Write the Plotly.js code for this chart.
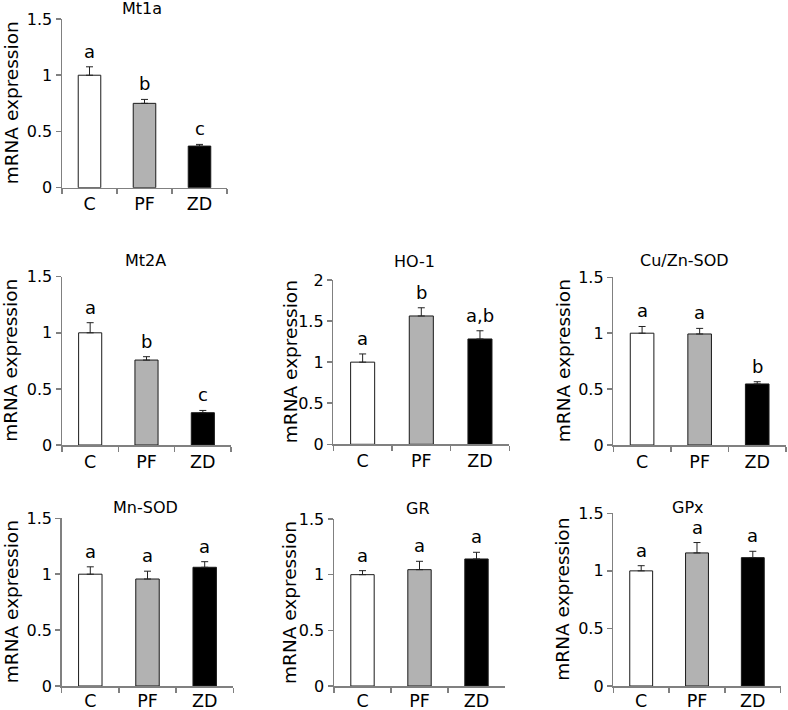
<!DOCTYPE html>
<html>
<head>
<meta charset="utf-8">
<script src="https://cdn.plot.ly/plotly-3.0.1.min.js"></script>
<style>
  html, body { margin: 0; padding: 0; background: #fff; }
  #chart { width: 788px; height: 710px; }
</style>
</head>
<body>
<div id="chart"></div>
<script>
// ---------- data ----------
const categories = ['C', 'PF', 'ZD'];
const genes = ['Mt1a', 'Mt2A', 'HO-1', 'Cu/Zn-SOD', 'Mn-SOD', 'GR', 'GPx'];

const mt1aMean = [1.00, 0.75, 0.37];
const mt1aErr  = [0.075, 0.035, 0.015];
const mt1aSig  = ['a', 'b', 'c'];

const mt2aMean = [1.00, 0.757, 0.288];
const mt2aErr  = [0.09, 0.03, 0.02];
const mt2aSig  = ['a', 'b', 'c'];

const ho1Mean = [1.00, 1.562, 1.282];
const ho1Err  = [0.10, 0.10, 0.10];
const ho1Sig  = ['a', 'b', 'a,b'];

const cuznMean = [1.00, 0.993, 0.546];
const cuznErr  = [0.06, 0.05, 0.02];
const cuznSig  = ['a', 'a', 'b'];

const mnMean = [1.00, 0.957, 1.062];
const mnErr  = [0.066, 0.07, 0.05];
const mnSig  = ['a', 'a', 'a'];

const grMean = [1.00, 1.045, 1.141];
const grErr  = [0.036, 0.075, 0.06];
const grSig  = ['a', 'a', 'a'];

const gpxMean = [1.00, 1.156, 1.115];
const gpxErr  = [0.045, 0.09, 0.055];
const gpxSig  = ['a', 'a', 'a'];

const yMax = [1.5, 1.5, 2, 1.5, 1.5, 1.5, 1.5];
const yTitle = 'mRNA expression';

const means = [mt1aMean, mt2aMean, ho1Mean, cuznMean, mnMean, grMean, gpxMean];
const errs  = [mt1aErr, mt2aErr, ho1Err, cuznErr, mnErr, grErr, gpxErr];
const sigs  = [mt1aSig, mt2aSig, ho1Sig, cuznSig, mnSig, grSig, gpxSig];

// ---------- layout geometry (pixels) ----------
const W = 788, H = 710;
const px = x => x / W;
const py = y => 1 - y / H;
// [left, right, top, bottom]
const boxes = [
  [62, 227, 19, 187.7],
  [62, 231, 276.7, 445],
  [333.3, 509.3, 280, 444.3],
  [613.3, 786, 277.3, 445],
  [61.7, 233.3, 518.3, 686],
  [334, 505, 519, 686],
  [613.3, 780.7, 513.3, 686]
];
const titlePos = [[142, 8.7], [145.7, 260.5], [414, 261.7], [684, 260.8], [145, 507.5], [418.3, 508.3], [687.5, 507.5]];
const yTitleX = [11, 11, 290, 563, 11, 289.5, 563];

const FONT = 'DejaVu Sans, Verdana, sans-serif';
const barColors = ['#ffffff', '#b2b2b2', '#000000'];
const axisGray = '#808080';

const traces = [];
const layout = {
  width: W, height: H,
  margin: {l: 0, r: 0, t: 0, b: 0},
  paper_bgcolor: '#fff',
  plot_bgcolor: 'rgba(0,0,0,0)',
  showlegend: false,
  font: {family: FONT, color: '#000', size: 15},
  annotations: []
};

genes.forEach((g, i) => {
  const n = i + 1;
  const xa = 'x' + (n === 1 ? '' : n);
  const ya = 'y' + (n === 1 ? '' : n);
  const xKey = 'xaxis' + (n === 1 ? '' : n);
  const yKey = 'yaxis' + (n === 1 ? '' : n);
  const b = boxes[i];

  traces.push({
    type: 'bar',
    x: categories,
    y: means[i],
    xaxis: xa, yaxis: ya,
    width: 0.41,
    marker: {color: barColors, line: {color: '#1a1a1a', width: 1}},
    error_y: {
      type: 'data', symmetric: false,
      array: errs[i], arrayminus: errs[i].map(() => 0),
      color: '#222', thickness: 1, width: 3.5
    },
    hoverinfo: 'skip'
  });

  layout[xKey] = {
    domain: [px(b[0]), px(b[1])],
    anchor: ya,
    type: 'category',
    range: [-0.5, 2.5],
    showline: true, linecolor: axisGray, linewidth: 1.5,
    ticks: 'outside', tickson: 'boundaries', ticklen: 5, tickcolor: axisGray, tickwidth: 1.5,
    ticklabelstandoff: i >= 4 ? -2 : 0,
    showgrid: false, zeroline: false,
    tickfont: {size: 17.5, family: FONT, color: '#000'},
    fixedrange: true
  };
  layout[yKey] = {
    domain: [py(b[3]), py(b[2])],
    anchor: xa,
    range: [0, yMax[i]],
    dtick: 0.5, tick0: 0,
    showline: true, linecolor: axisGray, linewidth: 1.5,
    ticks: 'outside', ticklen: 5, tickcolor: axisGray, tickwidth: 1.5,
    showgrid: false, zeroline: false,
    tickfont: {size: 16, family: FONT, color: '#000'},
    fixedrange: true
  };

  // panel title
  layout.annotations.push({
    text: g, xref: 'paper', yref: 'paper',
    x: px(titlePos[i][0]), y: py(titlePos[i][1]),
    xanchor: 'center', yanchor: 'middle', showarrow: false,
    font: {size: 16, family: FONT, color: '#000'}
  });
  // y-axis title
  layout.annotations.push({
    text: yTitle, xref: 'paper', yref: 'paper', textangle: -90,
    x: px(yTitleX[i]), y: py((b[2] + b[3]) / 2),
    xanchor: 'center', yanchor: 'middle', showarrow: false,
    font: {size: 18.5, family: FONT, color: '#000'}
  });
  // significance letters
  categories.forEach((c, k) => {
    layout.annotations.push({
      text: sigs[i][k], xref: xa, yref: ya,
      x: c, y: means[i][k] + errs[i][k],
      xanchor: 'center', yanchor: 'bottom', yshift: 3,
      showarrow: false,
      font: {size: 18, family: FONT, color: '#000'}
    });
  });
});

Plotly.newPlot('chart', traces, layout, {displayModeBar: false, staticPlot: true});
</script>
</body>
</html>
